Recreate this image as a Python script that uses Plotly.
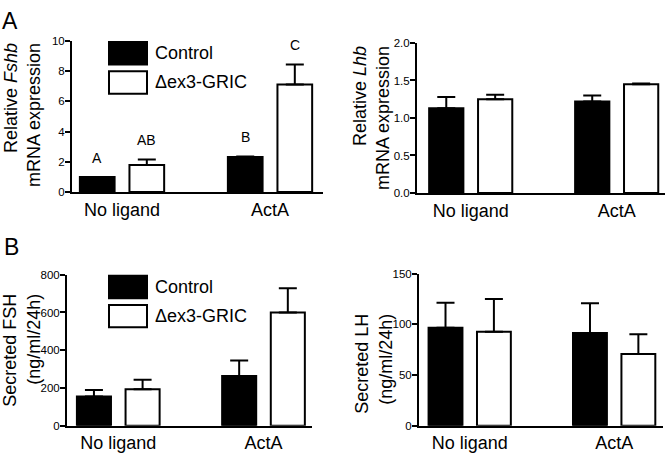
import plotly.graph_objects as go

W, H = 667, 458
FONT = "Liberation Sans, Arial, sans-serif"

categories = ["No ligand", "ActA"]
groups = ["Control", "\u0394ex3-GRIC"]

# Panel A left: relative Fshb mRNA
fshb_ctrl = [1.0, 2.32]
fshb_ctrl_sem = [0.0, 0.04]
fshb_mut = [1.79, 7.12]
fshb_mut_sem = [0.37, 1.33]
fshb_letters_ctrl = ["A", "B"]
fshb_letters_mut = ["AB", "C"]

# Panel A right: relative Lhb mRNA
lhb_ctrl = [1.13, 1.22]
lhb_ctrl_sem = [0.15, 0.08]
lhb_mut = [1.25, 1.45]
lhb_mut_sem = [0.06, 0.01]

# Panel B left: secreted FSH
fsh_ctrl = [155, 263]
fsh_ctrl_sem = [34, 83]
fsh_mut = [193, 600]
fsh_mut_sem = [50, 128]

# Panel B right: secreted LH
lh_ctrl = [96.7, 91.5]
lh_ctrl_sem = [24.7, 29.5]
lh_mut = [92.8, 70.7]
lh_mut_sem = [32.2, 19.6]

BARGAP = 0.33
BARGROUPGAP = 0.3


def px(x):
    return x / W


def py(y):
    return 1 - y / H


panels = [
    dict(ax="", ctrl=fshb_ctrl, cs=fshb_ctrl_sem, mut=fshb_mut, ms=fshb_mut_sem,
         xd=[72, 323], yd=[191, 36], xr=[-0.338, 1.358], yr=[0, 10], dt=2, fmt="d"),
    dict(ax="2", ctrl=lhb_ctrl, cs=lhb_ctrl_sem, mut=lhb_mut, ms=lhb_mut_sem,
         xd=[417, 665], yd=[192, 38], xr=[-0.368, 1.331], yr=[0, 2.0], dt=0.5, fmt=".1f"),
    dict(ax="3", ctrl=fsh_ctrl, cs=fsh_ctrl_sem, mut=fsh_mut, ms=fsh_mut_sem,
         xd=[67, 312], yd=[431, 276], xr=[-0.353, 1.334], yr=[0, 800], dt=200, fmt="d"),
    dict(ax="4", ctrl=lh_ctrl, cs=lh_ctrl_sem, mut=lh_mut, ms=lh_mut_sem,
         xd=[419, 663], yd=[431, 275], xr=[-0.351, 1.338], yr=[0, 150], dt=50, fmt="d"),
]

fig = go.Figure()
layout = {}
for p in panels:
    xa = "x" + p["ax"]
    ya = "y" + p["ax"]
    for name, vals, sem, color in [(groups[0], p["ctrl"], p["cs"], "black"),
                                   (groups[1], p["mut"], p["ms"], "white")]:
        fig.add_trace(go.Bar(
            x=categories, y=vals, name=name, xaxis=xa, yaxis=ya,
            marker=dict(color=color, line=dict(color="black", width=2)),
            error_y=dict(type="data", symmetric=False, array=sem,
                         arrayminus=[0] * len(sem), color="black",
                         thickness=2, width=9),
            showlegend=False, offsetgroup=name,
        ))
    xkey = "xaxis" + p["ax"]
    ykey = "yaxis" + p["ax"]
    layout[xkey] = dict(
        domain=[px(p["xd"][0]), px(p["xd"][1])], anchor=ya,
        range=p["xr"], type="category", showline=True, linecolor="black",
        linewidth=2, ticks="", showgrid=False, zeroline=False,
        tickfont=dict(family=FONT, size=18, color="black"), fixedrange=True,
    )
    layout[ykey] = dict(
        domain=[py(p["yd"][0]), py(p["yd"][1])], anchor=xa,
        range=p["yr"], dtick=p["dt"], tick0=0, tickformat=p["fmt"],
        showline=True, linecolor="black", linewidth=2,
        ticks="outside", ticklen=5, tickwidth=1.5, tickcolor="black",
        ticklabelstandoff=-2,
        showgrid=False, zeroline=False,
        tickfont=dict(family=FONT, size=11.5, color="black"), fixedrange=True,
    )

annotations = []
shapes = []

# significance letters above Fshb bars
off = (1 - BARGAP) / 4
for i, cat in enumerate(categories):
    for letters, vals, sem, sgn in [(fshb_letters_ctrl, fshb_ctrl, fshb_ctrl_sem, -1),
                                    (fshb_letters_mut, fshb_mut, fshb_mut_sem, 1)]:
        annotations.append(dict(
            x=i + sgn * off, y=vals[i] + sem[i], xref="x", yref="y",
            text=letters[i], showarrow=False, yanchor="bottom", yshift=9,
            font=dict(family=FONT, size=14, color="black"),
        ))

# legend boxes (panel A and B)
for top in [37, 277]:
    for k, (name, color) in enumerate([(groups[0], "black"), (groups[1], "white")]):
        y0 = top + k * 30
        shapes.append(dict(type="rect", xref="paper", yref="paper",
                           x0=px(109), x1=px(147), y0=py(y0 + 23), y1=py(y0),
                           fillcolor=color, line=dict(color="black", width=2)))
        annotations.append(dict(x=px(153), y=py(y0 + 11.5), xref="paper", yref="paper",
                                text=name, showarrow=False, xanchor="left",
                                yanchor="middle",
                                font=dict(family=FONT, size=18, color="black")))

# axis titles
titles = [
    ("Relative <i>Fshb</i><br>mRNA expression", 22, 36),
    ("Relative <i>Lhb</i><br>mRNA expression", 372, 39),
    ("Secreted FSH<br>(ng/ml/24h)", 22, 294),
    ("Secreted LH<br>(ng/ml/24h)", 374, 314),
]
for text, xc, ytop in titles:
    annotations.append(dict(x=px(xc), y=py(ytop), xref="paper", yref="paper",
                            text=text, showarrow=False, textangle=-90,
                            xanchor="center", yanchor="top", align="right",
                            font=dict(family=FONT, size=18, color="black")))

# panel letters
for letter, x, y in [("A", 0, 0), ("B", 2, 232)]:
    annotations.append(dict(x=px(x), y=py(y), xref="paper", yref="paper",
                            text=letter, showarrow=False, xanchor="left",
                            yanchor="top",
                            font=dict(family=FONT, size=23, color="black")))

fig.update_layout(
    width=W, height=H, margin=dict(l=0, r=0, t=0, b=0),
    paper_bgcolor="white", plot_bgcolor="white",
    barmode="group", bargap=BARGAP, bargroupgap=BARGROUPGAP,
    showlegend=False, annotations=annotations, shapes=shapes,
    font=dict(family=FONT, color="black"),
    **layout,
)
fig.write_html("out.html", config={"displayModeBar": False},
               post_script="document.body.style.margin='0';document.body.style.padding='0';")
